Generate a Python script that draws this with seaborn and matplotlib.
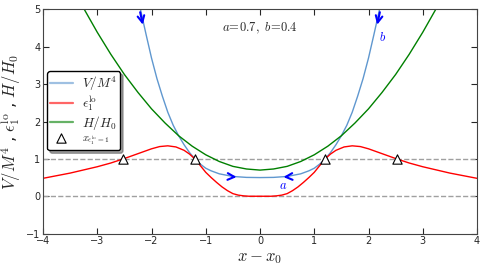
import numpy as np
import pandas as pd
import seaborn as sns
import matplotlib
matplotlib.use("Agg")
import matplotlib.pyplot as plt

# values
red_x = [-4.0, -3.5, -3.0, -2.75, -2.5, -2.25, -2.0, -1.85, -1.7, -1.55, -1.4, -1.3, -1.2, -1.1,
         -1.0, -0.9, -0.8, -0.7, -0.6, -0.5, -0.4, -0.3, -0.2, 0.0, 0.2, 0.3, 0.4, 0.5, 0.6, 0.7,
         0.8, 0.9, 1.0, 1.1, 1.2, 1.3, 1.4, 1.55, 1.7, 1.85, 2.0, 2.25, 2.5, 2.75, 3.0, 3.5, 4.0]
eps_lo = [0.48, 0.62, 0.79, 0.89, 1.01, 1.14, 1.27, 1.33, 1.35, 1.32, 1.23, 1.13, 1.0, 0.82,
          0.64, 0.5, 0.37, 0.25, 0.15, 0.07, 0.03, 0.01, 0.0, 0.0, 0.0, 0.01, 0.03, 0.07, 0.15, 0.25,
          0.37, 0.5, 0.64, 0.82, 1.0, 1.13, 1.23, 1.32, 1.35, 1.33, 1.27, 1.14, 1.01, 0.89, 0.79, 0.62, 0.48]

blue_x = [-2.3, -2.2, -2.1, -2.0, -1.9, -1.8, -1.7, -1.6, -1.5, -1.4, -1.3, -1.2, -1.1, -1.0,
          -0.9, -0.75, -0.5, -0.25, 0.0, 0.25, 0.5, 0.75, 0.9, 1.0, 1.1, 1.2, 1.3, 1.4, 1.5,
          1.6, 1.7, 1.8, 1.9, 2.0, 2.1, 2.2, 2.3]
V_M4 = [5.7, 4.98, 4.33, 3.7, 3.15, 2.68, 2.25, 1.9, 1.62, 1.38, 1.17, 1.0, 0.86, 0.75,
        0.68, 0.6, 0.53, 0.505, 0.5, 0.505, 0.53, 0.6, 0.68, 0.75, 0.86, 1.0, 1.17, 1.38, 1.62,
        1.9, 2.25, 2.68, 3.15, 3.7, 4.33, 4.98, 5.7]

green_x = [-3.5, -3.25, -3.0, -2.75, -2.5, -2.25, -2.0, -1.75, -1.5, -1.25, -1.0, -0.75, -0.5,
           -0.25, 0.0, 0.25, 0.5, 0.75, 1.0, 1.25, 1.5, 1.75, 2.0, 2.25, 2.5, 2.75, 3.0, 3.25, 3.5]
H_H0 = [5.7, 5.03, 4.39, 3.8, 3.26, 2.78, 2.34, 1.96, 1.62, 1.34, 1.11, 0.93, 0.8,
        0.73, 0.7, 0.73, 0.8, 0.93, 1.11, 1.34, 1.62, 1.96, 2.34, 2.78, 3.26, 3.8, 4.39, 5.03, 5.7]

tri_x = [-2.52, -1.2, 1.2, 2.52]
tri_y = [1.0, 1.0, 1.0, 1.0]

sns.set_style("ticks")
plt.rcParams["font.family"] = ["DejaVu Sans"]
plt.rcParams["mathtext.fontset"] = "cm"

fig = plt.figure(figsize=(4.85, 2.71), dpi=100)
ax = fig.add_axes([0.0887, 0.138, 0.8948, 0.827])

ax.axhline(0, color="#a0a0a0", ls="--", lw=1, zorder=1)
ax.axhline(1, color="#a0a0a0", ls="--", lw=1, zorder=1)

sns.lineplot(x=blue_x, y=V_M4, color="#5f97cf", lw=1, ax=ax, label=r"$V/M^4$", sort=False)
sns.lineplot(x=red_x, y=eps_lo, color="red", lw=1, ax=ax, label=r"$\epsilon_1^{\rm lo}$", sort=False)
sns.lineplot(x=green_x, y=H_H0, color="green", lw=1, ax=ax, label=r"$H/H_0$", sort=False)
sns.scatterplot(x=tri_x, y=tri_y, marker="^", s=45, facecolor="white", edgecolor="black",
                linewidth=0.8, ax=ax, label=r"$x_{\epsilon_1^{\rm lo}=1}$", zorder=5)

# flow arrows
arr = dict(arrowstyle="->", color="blue", lw=1.5, mutation_scale=12)
ax.annotate("", xy=(-2.15, 4.52), xytext=(-2.22, 5.0), arrowprops=arr)
ax.annotate("", xy=(2.15, 4.52), xytext=(2.22, 5.0), arrowprops=arr)
ax.annotate("", xy=(-0.38, 0.51), xytext=(-0.55, 0.525), arrowprops=arr)
ax.annotate("", xy=(0.38, 0.51), xytext=(0.55, 0.525), arrowprops=arr)
ax.text(0.42, 0.28, r"$a$", color="blue", fontsize=9, ha="center", va="center")
ax.text(2.25, 4.25, r"$b$", color="blue", fontsize=9, ha="center", va="center")
ax.text(0.0, 4.5, r"$a\!=\!0.7,\ b\!=\!0.4$", fontsize=9, ha="center", va="center")

ax.set_xlim(-4, 4)
ax.set_ylim(-1, 5)
ax.set_xticks(range(-4, 5))
ax.set_yticks(range(-1, 6))
ax.tick_params(direction="in", top=True, right=True, labelsize=7, length=4, pad=2)
for s in ax.spines.values():
    s.set_color("#444444")
ax.set_xlabel(r"$x - x_0$", fontsize=12, labelpad=1)
ax.set_ylabel(r"$V/M^4$ , $\epsilon_1^{\rm lo}$ , $H/H_0$", fontsize=12, labelpad=2)

leg = ax.legend(loc="upper left", bbox_to_anchor=(0.0, 0.742), fontsize=9.5, frameon=True,
                fancybox=True, shadow=True, handlelength=1.7, handletextpad=0.7,
                borderpad=0.25, labelspacing=0.05, borderaxespad=0.3)
leg.get_frame().set_edgecolor("black")
leg.get_frame().set_alpha(1)
for h in leg.legend_handles[:3]:
    h.set_linewidth(1.6)
    h.set_alpha(0.6)
leg.get_texts()[3].set_fontsize(7.5)

fig.savefig("out.png", dpi=100)
